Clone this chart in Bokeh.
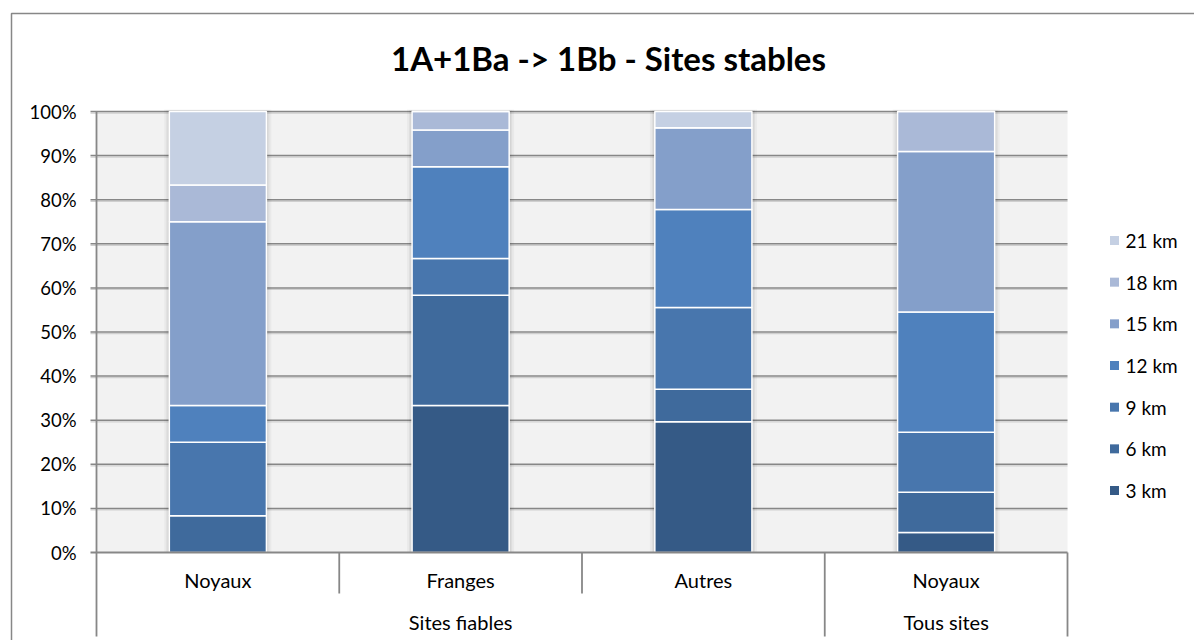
from bokeh.plotting import figure
from bokeh.models import ColumnDataSource, Range1d
from bokeh.core.properties import value
from bokeh.embed import file_html
from bokeh.resources import INLINE

# ---------------- data ----------------
title_text = "1A+1Ba -> 1Bb - Sites stables"
categories = ["Noyaux", "Franges", "Autres", "Noyaux"]
groups = ["Sites fiables", "Sites fiables", "Sites fiables", "Tous sites"]
series = ["3 km", "6 km", "9 km", "12 km", "15 km", "18 km", "21 km"]
km3 = [0.0, 33.33, 29.63, 4.55]
km6 = [8.33, 25.00, 7.41, 9.09]
km9 = [16.67, 8.33, 18.52, 13.64]
km12 = [8.33, 20.83, 22.22, 27.27]
km15 = [41.67, 8.33, 18.52, 36.36]
km18 = [8.33, 4.17, 0.0, 9.09]
km21 = [16.67, 0.0, 3.70, 0.0]
colors = ["#355a86", "#3f6a9c", "#4876ad", "#4f81bd", "#849fca", "#aab9d7", "#c5d0e3"]
y_ticks = [0, 10, 20, 30, 40, 50, 60, 70, 80, 90, 100]
y_tick_labels = ["0%", "10%", "20%", "30%", "40%", "50%", "60%", "70%", "80%", "90%", "100%"]

# ---------------- layout helpers (page pixels -> data units) ----------------
W, H = 1194, 640
OX, OY = 0, 0  # where the canvas sits on the screenshot
PL, PR, PT, PB = 96, 1067, 111, 552  # plot area on the page
ncat = len(categories)
xs_px = (PR - PL) / ncat
ys_px = (PB - PT) / 100.0


def X(px):
    return (px - PL) / xs_px


def Y(py):
    return (PB - py) / ys_px


FONT = value("Lato")
GRID = "#878787"

p = figure(width=W, height=H, output_backend="svg", toolbar_location=None,
           x_range=Range1d(X(OX), X(OX + W)), y_range=Range1d(Y(OY + H), Y(OY)),
           x_axis_type=None, y_axis_type=None, min_border=0,
           min_border_left=0, min_border_right=0, min_border_top=0, min_border_bottom=0)
p.grid.visible = False
p.outline_line_color = None
p.background_fill_color = "white"
p.border_fill_color = "white"

# outer chart border (left and top edges visible)
p.line(x=[X(11), X(11), X(1300)], y=[Y(700), Y(13), Y(13)], line_color=GRID, line_width=1.5)

# plot area background
p.quad(left=[0], right=[ncat], bottom=[0], top=[100], fill_color="#f2f2f2", line_color=None)

# gridlines (with faint shadow) and tick marks
gt = y_ticks[1:]
p.segment(x0=[X(90)] * len(gt), x1=[ncat] * len(gt), y0=[t - 1.6 / ys_px for t in gt],
          y1=[t - 1.6 / ys_px for t in gt], line_color="#cfcfcf", line_width=1.2)
p.segment(x0=[X(90)] * len(gt), x1=[ncat] * len(gt), y0=gt, y1=gt, line_color=GRID, line_width=1.5)

# bar shadows
xc = [i + 0.5 for i in range(ncat)]
bw = 0.4
totals = [a + b + c + d + e + f + g for a, b, c, d, e, f, g in zip(km3, km6, km9, km12, km15, km18, km21)]
for pad, alpha in [(5, 0.035), (3, 0.05), (1.5, 0.06)]:
    p.quad(left=[x - bw / 2 - pad / xs_px for x in xc], right=[x + bw / 2 + pad / xs_px for x in xc],
           bottom=[0] * ncat, top=[t + pad / ys_px * 0.4 for t in totals],
           fill_color="black", fill_alpha=alpha, line_color=None)

# stacked bars
src = ColumnDataSource(dict(x=xc, **{"3 km": km3, "6 km": km6, "9 km": km9, "12 km": km12,
                                     "15 km": km15, "18 km": km18, "21 km": km21}))
p.vbar_stack(series, x="x", width=bw, color=colors, source=src,
             line_color="white", line_width=1.5)

# axis line at 0% and y-axis line
p.segment(x0=[X(90)], x1=[ncat], y0=[0], y1=[0], line_color=GRID, line_width=1.8)
p.segment(x0=[0], x1=[0], y0=[100], y1=[Y(636)], line_color=GRID, line_width=1.8)

# category dividers
inner = [i for i in range(1, ncat) if groups[i] == groups[i - 1]]
outer = [i for i in range(1, ncat + 1) if i not in inner]
p.segment(x0=inner, x1=inner, y0=[0] * len(inner), y1=[Y(593)] * len(inner), line_color=GRID, line_width=1.8)
p.segment(x0=outer, x1=outer, y0=[0] * len(outer), y1=[Y(636)] * len(outer), line_color=GRID, line_width=1.8)

# y tick labels
p.text(x=[X(76)] * len(y_ticks), y=y_ticks, text=y_tick_labels,
       text_font=FONT, text_font_size="18.5px", text_color="black",
       text_align="right", text_baseline="middle")

# category labels
p.text(x=xc, y=[Y(579)] * ncat, text=categories, text_font=FONT, text_font_size="20px",
       text_color="black", text_align="center", text_baseline="middle")
ug = []
for g in groups:
    if g not in ug:
        ug.append(g)
gx = [sum(xc[i] for i in range(ncat) if groups[i] == g) / groups.count(g) for g in ug]
p.text(x=gx, y=[Y(621)] * len(ug), text=ug, text_font=FONT, text_font_size="20px",
       text_color="black", text_align="center", text_baseline="middle")

# legend (manual)
leg_names = series[::-1]
leg_colors = colors[::-1]
leg_y = [240 + i * 41.67 for i in range(len(series))]
p.scatter(x=[X(1114)] * len(series), y=[Y(v) for v in leg_y], marker="square", size=9,
          fill_color=leg_colors, line_color=None)
p.text(x=[X(1125)] * len(series), y=[Y(v) for v in leg_y], text=leg_names,
       text_font=FONT, text_font_size="19px", text_color="black",
       text_align="left", text_baseline="middle")

# title
p.text(x=[X(608)], y=[Y(57.5)], text=[title_text], text_font=FONT, text_font_size="33px",
       text_font_style="bold", text_color="black", text_align="center", text_baseline="middle")

open("out.html", "w").write(file_html(p, INLINE))
